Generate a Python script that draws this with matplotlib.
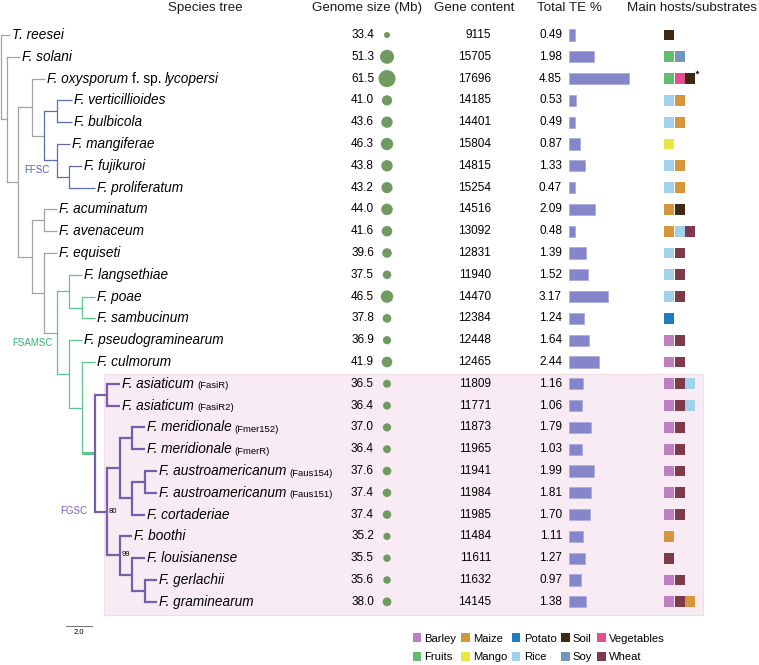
import matplotlib
matplotlib.use("Agg")
import matplotlib.pyplot as plt
from matplotlib.patches import Rectangle, Patch

plt.rcParams['font.family'] = ['Liberation Sans', 'DejaVu Sans']

# ---------------- data ----------------
species = ["T. reesei", "F. solani", "F. oxysporum f. sp. lycopersi",
           "F. verticillioides", "F. bulbicola", "F. mangiferae", "F. fujikuroi",
           "F. proliferatum", "F. acuminatum", "F. avenaceum", "F. equiseti",
           "F. langsethiae", "F. poae", "F. sambucinum", "F. pseudograminearum",
           "F. culmorum", "F. asiaticum", "F. asiaticum", "F. meridionale",
           "F. meridionale", "F. austroamericanum", "F. austroamericanum",
           "F. cortaderiae", "F. boothi", "F. louisianense", "F. gerlachii",
           "F. graminearum"]
strains = [""] * 16 + ["FasiR", "FasiR2", "Fmer152", "FmerR", "Faus154", "Faus151"] + [""] * 5

genome_size = [33.4, 51.3, 61.5, 41.0, 43.6, 46.3, 43.8, 43.2, 44.0, 41.6, 39.6,
               37.5, 46.5, 37.8, 36.9, 41.9, 36.5, 36.4, 37.0, 36.4, 37.6, 37.4,
               37.4, 35.2, 35.5, 35.6, 38.0]
gene_content = [9115, 15705, 17696, 14185, 14401, 15804, 14815, 15254, 14516, 13092,
                12831, 11940, 14470, 12384, 12448, 12465, 11809, 11771, 11873, 11965,
                11941, 11984, 11985, 11484, 11611, 11632, 14145]
total_te = [0.49, 1.98, 4.85, 0.53, 0.49, 0.87, 1.33, 0.47, 2.09, 0.48, 1.39, 1.52,
            3.17, 1.24, 1.64, 2.44, 1.16, 1.06, 1.79, 1.03, 1.99, 1.81, 1.70, 1.11,
            1.27, 0.97, 1.38]
hosts = [["Soil"], ["Fruits", "Soy"], ["Fruits", "Vegetables", "Soil"],
         ["Rice", "Maize"], ["Rice", "Maize"], ["Mango"], ["Rice", "Maize"],
         ["Rice", "Maize"], ["Maize", "Soil"], ["Maize", "Rice", "Wheat"],
         ["Rice", "Wheat"], ["Rice", "Wheat"], ["Rice", "Wheat"], ["Potato"],
         ["Barley", "Wheat"], ["Barley", "Wheat"], ["Barley", "Wheat", "Rice"],
         ["Barley", "Wheat", "Rice"], ["Barley", "Wheat"], ["Barley", "Wheat"],
         ["Barley", "Wheat"], ["Barley", "Wheat"], ["Barley", "Wheat"], ["Maize"],
         ["Wheat"], ["Barley", "Wheat"], ["Barley", "Wheat", "Maize"]]
starred = [2]

host_colors = {"Barley": "#c07ec2", "Fruits": "#62be6c", "Maize": "#d8963c",
               "Mango": "#e9e842", "Potato": "#1f7cc1", "Rice": "#a0d2ec",
               "Soil": "#3e2a12", "Soy": "#7397b8", "Vegetables": "#e3508c",
               "Wheat": "#7e3a4b"}

# species tree, leaves are row numbers, branch lengths in tree units
newick = ("(0:0.69,(1:1.0,((2:1.0,((3:1.15,4:1.15):1.0,(5:1.0,(6:1.0,7:2.0):0.92):1.0)"
          "FFSC:0.92):1.08,((8:1.0,9:1.0):0.92,(10:1.0,((11:1.0,(12:1.0,13:1.0):1.0):0.92,"
          "(14:1.0,(15:1.0,((16:1.0,17:1.0):0.92,(((18:1.0,19:1.0):0.92,((20:0.92,21:0.92)"
          ":1.0,22:1.0):0.92):1.0,(23:0.92,(24:1.0,(25:0.92,26:0.92):1.0):0.92)99:1.0)"
          "80:0.92)FGSC:1.0):1.0):0.92)FSAMSC:1.0):0.92):1.08):0.85):0.46);")

clade_style = {"FFSC": ("#5a6eb2", 0.9, None),
               "FSAMSC": ("#5fc68b", 0.9, None),
               "FGSC": ("#7a5cad", 1.6, 2.2)}
clade_text = {"FFSC": ("#4f64ad", 3.6, -24.5),
              "FSAMSC": ("#34b56d", -2.9, -7.5),
              "FGSC": ("#7a62b6", -5.8, -41.8)}


def parse_newick(s):
    pos = 0

    def node():
        nonlocal pos
        kids = []
        if s[pos] == '(':
            pos += 1
            kids.append(node())
            while s[pos] == ',':
                pos += 1
                kids.append(node())
            pos += 1
        start = pos
        while s[pos] not in ':,);':
            pos += 1
        name = s[start:pos]
        length = 0.0
        if s[pos] == ':':
            pos += 1
            start = pos
            while s[pos] not in ',);':
                pos += 1
            length = float(s[start:pos])
        return {'kids': kids, 'name': name, 'len': length}
    return node()


def layout(nd, x0):
    nd['x'] = x0 + nd['len']
    if nd['kids']:
        for k in nd['kids']:
            layout(k, nd['x'])
        nd['y'] = (nd['kids'][0]['y'] + nd['kids'][-1]['y']) / 2
    else:
        nd['y'] = int(nd['name'])


def draw(ax, nd, color, lw):
    if not nd['kids']:
        return
    ax.plot([nd['x'], nd['x']], [nd['kids'][0]['y'], nd['kids'][-1]['y']],
            color=color, lw=lw, solid_capstyle='projecting')
    for k in nd['kids']:
        kc, klw, stem = clade_style.get(k['name'], (color, lw, None))
        ax.plot([nd['x'], k['x']], [k['y'], k['y']], color=color,
                lw=stem if stem else lw, solid_capstyle='butt')
        if k['name'] in clade_text:
            tc, dx, dy = clade_text[k['name']]
            ax.annotate(k['name'], (k['x'], k['y']), xytext=(dx, dy),
                        textcoords='offset points', ha='right', va='center',
                        fontsize=7, color=tc)
        elif k['kids'] and k['name']:
            ax.annotate(k['name'], (k['x'], k['y']), xytext=(1.3, 0.6),
                        textcoords='offset points', ha='left', va='center',
                        fontsize=5.5)
        draw(ax, k, kc, klw)


# ---------------- layout ----------------
W, H = 759, 665
ROW0, ROW_H = 35, 21.8
PX_PER_UNIT = 13.0
ylims = ((H - ROW0) / ROW_H, -ROW0 / ROW_H)
rows = list(range(len(species)))

fig = plt.figure(figsize=(W / 100, H / 100), dpi=100)

ax = fig.add_axes([0, 0, 1, 1])
ax.set_xlim(0, W)
ax.set_ylim(*ylims)
ax.axis('off')

axt = fig.add_axes([0, 0, 1, 1])
axt.set_xlim(-1 / PX_PER_UNIT, (W - 1) / PX_PER_UNIT)
axt.set_ylim(*ylims)
axt.axis('off')

TE_X, TE_PX = 569, 12.4
axte = fig.add_axes([TE_X / W, 0, (W - TE_X) / W, 1])
axte.set_xlim(0, (W - TE_X) / TE_PX)
axte.set_ylim(*ylims)
axte.axis('off')

# FGSC background box
fgsc_rows = [r for r in rows if r >= 16]
ax.add_patch(Rectangle((104, fgsc_rows[0] - 0.45), 599, fgsc_rows[-1] - fgsc_rows[0] + 1.05,
                       fc='#f8ebf3', ec='#efdde8', lw=0.8, zorder=0))

# headers
hdr_y = (8 - ROW0) / ROW_H
for txt, x in [("Species tree", 205), ("Genome size (Mb)", 367), ("Gene content", 474),
               ("Total TE %", 569), ("Main hosts/substrates", 692)]:
    ax.text(x, hdr_y, txt, ha='center', va='center', fontsize=9.6, color='#1a1a1a')

# tree
tree = parse_newick(newick)
layout(tree, 0.0)
draw(axt, tree, '#a3a3a3', 0.9)


def leaf_tips(nd, out):
    if nd['kids']:
        for k in nd['kids']:
            leaf_tips(k, out)
    else:
        out[int(nd['name'])] = nd['x']
    return out


tips = leaf_tips(tree, {})
for r in rows:
    name = species[r]
    if " f. sp. " in name:
        a, b = name.split(" f. sp. ")
        t1 = axt.annotate(a, (tips[r], r), xytext=(1.5, 0), textcoords='offset points',
                          va='center', fontsize=9.8, fontstyle='italic')
        t2 = axt.annotate("f. sp.", xy=(1, 0.5), xycoords=t1, xytext=(2.7, 0),
                          textcoords='offset points', va='center', fontsize=9.8)
        axt.annotate(b, xy=(1, 0.5), xycoords=t2, xytext=(2.7, 0),
                     textcoords='offset points', va='center', fontsize=9.8,
                     fontstyle='italic')
    else:
        t1 = axt.annotate(name, (tips[r], r), xytext=(1.5, 0), textcoords='offset points',
                          va='center', fontsize=9.8, fontstyle='italic')
        if strains[r]:
            axt.annotate("(" + strains[r] + ")", xy=(1, 0), xycoords=t1, xytext=(2.2, 0.3),
                         textcoords='offset points', va='bottom', fontsize=6.8)

# scale bar
sb_y = (626 - ROW0) / ROW_H
axt.plot([5.0, 7.0], [sb_y, sb_y], color='#555555', lw=0.6)
axt.text(6.0, sb_y + 0.15, "2.0", ha='center', va='top', fontsize=5.5)

# genome size
for r in rows:
    ax.text(374, r, f"{genome_size[r]:.1f}", ha='right', va='center', fontsize=8.5)
ax.scatter([387] * len(rows), rows, s=[4.67 * (g - 29.4) for g in genome_size],
           color='#6f9a60', linewidths=0, zorder=3)

# gene content
for r in rows:
    ax.text(491, r, f"{gene_content[r]}", ha='right', va='center', fontsize=8.5)

# total TE
for r in rows:
    ax.text(562, r, f"{total_te[r]:.2f}", ha='right', va='center', fontsize=8.5)
axte.barh(rows, total_te, height=0.52, color='#8585c9', edgecolor='#a9a9dc', lw=0.5)

# hosts
HOST_X, SQ_W, SQ_STEP = 664, 10, 10.5
for r in rows:
    for k, h in enumerate(hosts[r]):
        ax.barh(r, SQ_W, left=HOST_X + k * SQ_STEP, height=0.5, color=host_colors[h])
for r in starred:
    ax.scatter(HOST_X + len(hosts[r]) * SQ_STEP + 1, r - 0.3, marker='*', s=12,
               color='black', linewidths=0, zorder=4)

# legend
handles = [Patch(fc=host_colors[h], ec='none', label=h) for h in sorted(host_colors)]
fig.legend(handles=handles, ncol=5, loc='upper left',
           bbox_to_anchor=(413 / W, 1 - 633 / H), frameon=False, fontsize=8.1,
           handlelength=0.72, handleheight=0.9, handletextpad=0.3,
           columnspacing=0.45, labelspacing=0.72, borderpad=0, borderaxespad=0)

fig.savefig("out.png", dpi=100)
